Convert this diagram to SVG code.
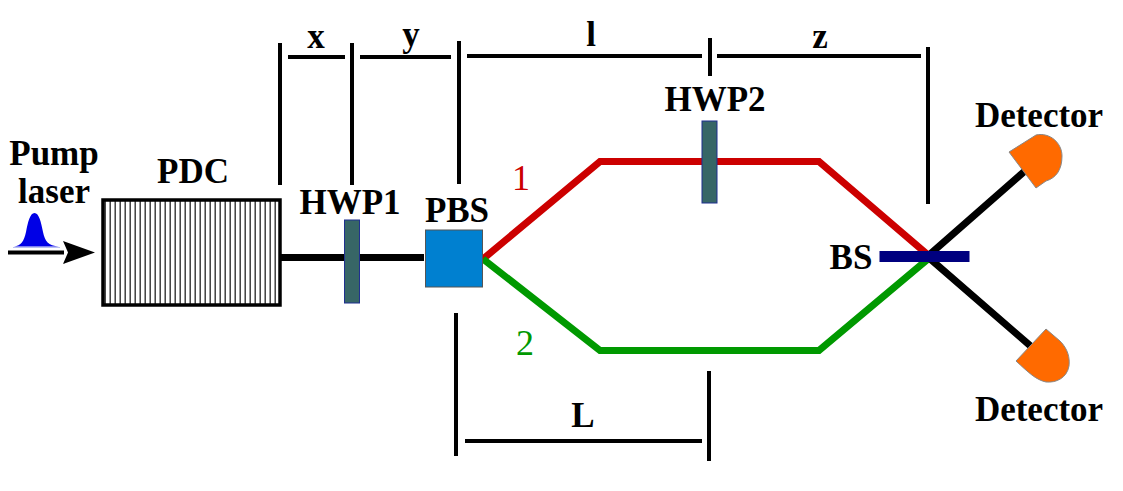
<svg xmlns="http://www.w3.org/2000/svg" width="1123" height="491" viewBox="0 0 1123 491">
<style>
.t{font-family:"Liberation Serif","Times New Roman",serif;font-weight:bold;font-size:35px;fill:#000}
.c{text-anchor:middle}
.d{stroke:#000;stroke-width:4;fill:none}
.b{stroke-width:7;fill:none}
.hw{fill:#376666;stroke:#1f2f8f;stroke-width:1}
.det{fill:#ff6a00;stroke:#888;stroke-width:1}
</style>
<defs>
<pattern id="hatch" width="5" height="10" patternUnits="userSpaceOnUse" x="103">
<rect width="5" height="10" fill="#fff"/>
<rect x="1.500" width="1.400" height="10" fill="#333"/>
</pattern>
</defs>
<rect width="1123" height="491" fill="#fff"/>
<g id="connectors">
<path class="b" stroke="#000" d="M281 257.500H424"/>
<path class="b" stroke="#cc0000" d="M483 259L600 161.500H819L928 255"/>
<path class="b" stroke="#009900" d="M483 259L600 350.500H819L928 259"/>
<path class="b" stroke="#000" d="M928 256L1026 170M928 257L1034 349"/>
<path d="M8 252.500H64" stroke="#000" stroke-width="4"/>
<path d="M63 241L95 252.500L63 264L68 252.500Z" fill="#000"/>
<path d="M14 246.500C21 246 24 241 26 232C28 222 30 213 34.500 213C39 213 41 222 43 232C45 241 48 246 59 246.500Z" fill="#0000e6"/>
<path d="M13 247.500H60" stroke="#b8c0f0" stroke-width="1"/>
</g>
<g id="dimensions">
<path class="d" d="M280 43V185M352 43V185M459 41V184M710 38V76M928 47V204M456 313V456M709 371V461"/>
<path class="d" d="M288 57H345M360 57H451M467 56H702M717 56H921M465 441H702"/>
</g>
<g id="pump"><text class="t c" x="54" y="165">Pump</text><text class="t c" x="54" y="203">laser</text></g>
<g id="pdc">
<text class="t c" x="193" y="183">PDC</text>
<rect x="103" y="200" width="177" height="105" fill="url(#hatch)" stroke="#000" stroke-width="3.500"/>
</g>
<g id="hwp1">
<rect class="hw" x="344.500" y="220" width="15" height="83"/>
<text class="t c" x="350" y="214">HWP1</text>
</g>
<g id="pbs">
<rect x="425.500" y="230" width="57" height="57" fill="#0080d0" stroke="#555" stroke-width="1"/>
<text class="t c" x="457" y="222">PBS</text>
</g>
<g id="hwp2">
<rect class="hw" x="702" y="121" width="15" height="82"/>
<text class="t c" x="715" y="111">HWP2</text>
</g>
<g id="bs">
<rect x="879.500" y="251" width="90" height="11" fill="#00007f"/>
<text class="t c" x="851" y="269">BS</text>
</g>
<g id="detector1">
<path class="det" d="M1009 152L1036 135C1050 132 1062 143 1062 156C1062 170 1056 178 1046 181L1036 188Z"/>
<text class="t c" x="1039" y="127">Detector</text>
</g>
<g id="detector2">
<path class="det" d="M1016 361L1046 329L1060 341C1068 349 1070 358 1069 366C1067 378 1056 383 1046 382C1036 380 1028 372 1016 361Z"/>
<text class="t c" x="1039" y="421">Detector</text>
</g>
<g id="labels">
<text class="t c" x="316" y="48">x</text>
<text class="t c" x="411" y="46">y</text>
<text class="t c" x="591" y="46">l</text>
<text class="t c" x="820" y="48">z</text>
<text class="t c" x="583" y="427">L</text>
<text x="521" y="190" text-anchor="middle" font-family="Liberation Serif,serif" font-size="36" fill="#cc0000">1</text>
<text x="525" y="355" text-anchor="middle" font-family="Liberation Serif,serif" font-size="36" fill="#009900">2</text>
</g>
</svg>
